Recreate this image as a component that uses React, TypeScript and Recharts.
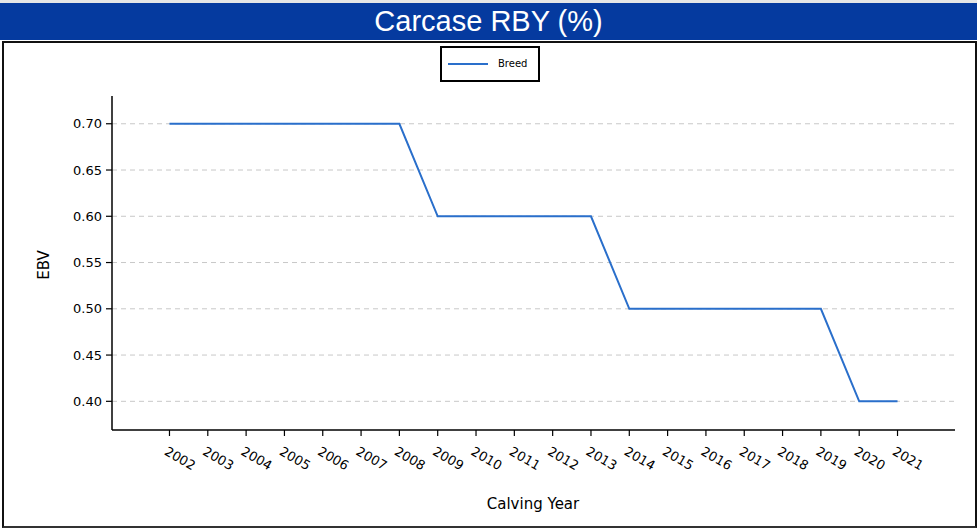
import React from 'react';
import { LineChart, Line, XAxis, YAxis, CartesianGrid } from 'recharts';

const years = [2002, 2003, 2004, 2005, 2006, 2007, 2008, 2009, 2010, 2011, 2012, 2013, 2014, 2015, 2016, 2017, 2018, 2019, 2020, 2021];
const breedEbv = [0.7, 0.7, 0.7, 0.7, 0.7, 0.7, 0.7, 0.6, 0.6, 0.6, 0.6, 0.6, 0.5, 0.5, 0.5, 0.5, 0.5, 0.5, 0.4, 0.4];
const yTicks = [0.4, 0.45, 0.5, 0.55, 0.6, 0.65, 0.7];
const yDomain = [0.369, 0.73];

const data = years.map((year, i) => ({ year, breed: breedEbv[i] }));

const FONT = '"DejaVu Sans", sans-serif';
const LINE_COLOR = '#2a6fcb';

const XTick = ({ x, y, payload }: any) => {
  const bx = x - 6;
  const by = y + 16;
  return (
    <text x={bx} y={by} transform={`rotate(30, ${bx}, ${by})`} textAnchor="start" fontSize={13} fontFamily={FONT} fill="#000">
      {payload.value}
    </text>
  );
};

// grid lines only at the y ticks (no line along the top edge)
const gridRows = ({ offset }: any) => {
  const top = offset?.top ?? 96;
  const h = offset?.height ?? 334;
  return yTicks.map((t) => top + ((yDomain[1] - t) / (yDomain[1] - yDomain[0])) * h);
};

export default function App() {
  return (
    <div style={{ position: 'relative', width: 977, height: 528, background: '#fff', overflow: 'hidden' }}>
      <style>{'body{margin:0;}'}</style>
      <div style={{ position: 'absolute', left: 0, top: 0, width: 977, height: 3, background: '#e6e6e6' }} />
      <div
        style={{
          position: 'absolute', left: 0, top: 3, width: 977, height: 37, background: '#053a9f',
          color: '#fff', fontFamily: '"Liberation Sans", Arial, sans-serif', fontSize: 29,
          lineHeight: '37px', textAlign: 'center',
        }}
      >
        Carcase RBY (%)
      </div>
      <div
        style={{
          position: 'absolute', left: 2, top: 41, width: 975, height: 487, boxSizing: 'border-box',
          borderLeft: '2px solid #111', borderTop: '2px solid #111', borderRight: '2px solid #111', borderBottom: '2px solid #333',
        }}
      />
      <div style={{ position: 'absolute', left: 0, top: 0 }}>
        <LineChart width={977} height={528} data={data} margin={{ top: 96, right: 22, left: 0, bottom: 0 }}>
          <CartesianGrid
            vertical={false}
            stroke="#c8c8c8"
            strokeDasharray="5 4"
            horizontalCoordinatesGenerator={gridRows}
          />
          <XAxis
            dataKey="year"
            type="number"
            domain={[2000.5, 2022.5]}
            ticks={years}
            height={98}
            tickSize={6}
            tickLine={{ stroke: '#000', strokeWidth: 1.2 }}
            axisLine={{ stroke: '#000', strokeWidth: 1.5 }}
            tick={<XTick />}
            interval={0}
          />
          <YAxis
            type="number"
            domain={yDomain}
            ticks={yTicks}
            width={112}
            tickSize={6}
            tickMargin={4}
            tickFormatter={(v: number) => v.toFixed(2)}
            tickLine={{ stroke: '#000', strokeWidth: 1.2 }}
            axisLine={{ stroke: '#000', strokeWidth: 1.5 }}
            tick={{ fill: '#000', fontSize: 13, fontFamily: FONT }}
            allowDataOverflow
          />
          <Line type="linear" dataKey="breed" stroke={LINE_COLOR} strokeWidth={2} dot={false} isAnimationActive={false} />
        </LineChart>
      </div>
      <div
        style={{
          position: 'absolute', left: 440, top: 46, width: 100, height: 36, boxSizing: 'border-box',
          border: '2px solid #000', background: '#fff',
        }}
      >
        <div style={{ position: 'absolute', left: 6, top: 15, width: 40, height: 2, background: LINE_COLOR }} />
        <div style={{ position: 'absolute', left: 56, top: 9, fontFamily: FONT, fontSize: 10, lineHeight: '14px', color: '#000' }}>
          Breed
        </div>
      </div>
      <div
        style={{
          position: 'absolute', left: 44, top: 265, transform: 'translate(-50%, -50%) rotate(-90deg)',
          fontFamily: FONT, fontSize: 15, color: '#000', whiteSpace: 'nowrap',
        }}
      >
        EBV
      </div>
      <div
        style={{
          position: 'absolute', left: 533, top: 504, transform: 'translate(-50%, -50%)',
          fontFamily: FONT, fontSize: 15, color: '#000', whiteSpace: 'nowrap',
        }}
      >
        Calving Year
      </div>
    </div>
  );
}
